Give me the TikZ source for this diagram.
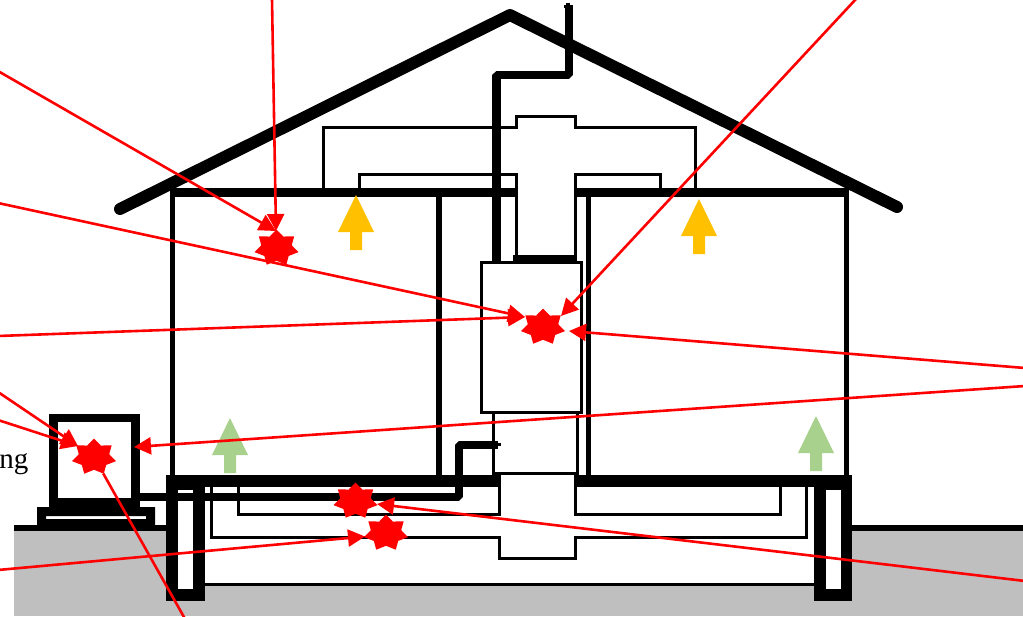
\documentclass[tikz,border=0pt]{standalone}
\usepackage{fontspec}
\setmainfont{Liberation Serif}
\usetikzlibrary{arrows.meta, shapes.geometric}
\definecolor{LEAKred}{HTML}{FF0000}
\definecolor{SOILgray}{HTML}{BFBFBF}
\definecolor{AIRyellow}{HTML}{FFC000}
\definecolor{AIRgreen}{HTML}{A9D18E}
\tikzset{
   leak/.style={star, star points=7, star point ratio=1.45, minimum size=37pt, inner sep=0pt, outer sep=0pt, fill=LEAKred, xscale=1.22, transform shape},
   leakline/.style={LEAKred, line width=2.6pt, -{Triangle[length=17pt, width=17pt]}},
   duct/.style={line width=3pt, miter limit=10},
   wall/.style={line width=5.5pt},
   pipe/.style={line width=8pt}
}

\begin{document}
\begin{tikzpicture}[x=1pt, y=-1pt]
   \useasboundingbox (0,0) rectangle (1023,616);
   % Ground
   \fill[SOILgray] (14,530) rectangle (166,616);
   \fill[SOILgray] (851,530) rectangle (1023,616);
   \fill[SOILgray] (166,585) rectangle (851,616);
   \draw[line width=5.5pt] (14,528) -- (166,528);
   \draw[line width=5.5pt] (851,528) -- (1023,528);
   \draw[line width=3pt] (205,584.5) -- (814,584.5);
   % Roof and flue
   \draw[line width=12pt, line join=round, line cap=round] (120,209) -- (510,15) -- (897,207);
   \draw[pipe, line width=8.5pt, line join=bevel] (496.5,262) -- (496.5,75) -- (569,75) -- (569,8);
   \fill (564,8) rectangle (573,5);
   \fill (566,3) rectangle (570,8);
   % Ceiling and floor
   \fill (170,188) rectangle (517,197);
   \fill (575,188) rectangle (849,197);
   \fill (166,475) rectangle (500,487);
   \fill (574,475) rectangle (851.5,487);
   % Walls
   \draw[wall] (172.5,190) -- (172.5,475);
   \draw[wall] (846.5,190) -- (846.5,475);
   \draw[wall] (439,197) -- (439,475);
   \draw[wall] (588.5,197) -- (588.5,475);
   % Attic ducts
   \draw[duct] (323.5,188) -- (323.5,127.5) -- (516.5,127.5) -- (516.5,116.5) -- (575.5,116.5) -- (575.5,127.5) -- (695,127.5) -- (695,188);
   \draw[duct] (359,188) -- (359,174) -- (516.5,174) -- (516.5,256);
   \draw[duct] (660,188) -- (660,174) -- (575.5,174) -- (575.5,256);
   % Furnace
   \draw[duct] (481.5,262.5) rectangle (581.5,412.5);
   \fill (513,255) rectangle (577,262);
   \draw[duct] (493.5,412.5) -- (493.5,473) -- (577.5,473) -- (577.5,412.5);
   % Crawlspace ducts
   \draw[duct] (238.5,487) -- (238.5,514) -- (499,514) -- (499,475);
   \draw[duct] (575.5,475) -- (575.5,514) -- (780,514) -- (780,487);
   \draw[duct] (211.5,487) -- (211.5,537.5) -- (499,537.5) -- (499,558) -- (575.5,558) -- (575.5,537.5) -- (806,537.5) -- (806,487);
   % Foundation
   \fill (166,475) rectangle (205,601);
   \fill[white] (178,490) rectangle (193,589);
   \fill (814,475) rectangle (851.5,601);
   \fill[white] (826,490) rectangle (841,589);
   % Outdoor unit
   \draw[line width=8.5pt] (53.5,418) rectangle (135.5,502.5);
   \fill[even odd rule] (37,507) rectangle (155,525) (46,516) rectangle (146,519);
   % Refrigerant line
   \draw[pipe, line join=bevel] (140,496.5) -- (458.5,496.5) -- (458.5,444.5) -- (498,444.5);
   \fill (498,443) rectangle (501,446);
   % Warm and cool air
   \foreach \px/\py/\colr in {356/195/AIRyellow, 699/199/AIRyellow, 230/418/AIRgreen, 816/416/AIRgreen}
      \fill[\colr] (\px,\py) -- ++(18,37) -- ++(-12,0) -- ++(0,18) -- ++(-12,0) -- ++(0,-18) -- ++(-12,0) -- cycle;
   % Leak points
   \node[leak] (leakattic) at (276.5,248) {};
   \node[leak] (leakfurnace) at (543,327) {};
   \node[leak] (leakunit) at (94,457) {};
   \node[leak] (leakline) at (355.5,501) {};
   \node[leak] (leakduct) at (386,533) {};
   % Free ends
   \coordinate (inA) at (272,-1);
   \coordinate (inB) at (-2,71);
   \coordinate (inC) at (-2,203);
   \coordinate (inD) at (-2,336);
   \coordinate (inE) at (856,-1);
   \coordinate (inF) at (1025,368);
   \coordinate (inG) at (1025,386);
   \coordinate (inH) at (-2,392);
   \coordinate (inI) at (-2,420);
   \coordinate (inJ) at (184.5,618);
   \coordinate (inK) at (1025,581);
   \coordinate (inL) at (-2,570);
   \coordinate (tipA) at (276,231);
   \coordinate (tipC) at (525,317);
   \coordinate (tipE) at (561,316);
   \coordinate (tipF) at (569,331);
   \coordinate (tipG) at (134,447);
   \coordinate (tipH) at (78,446);
   \coordinate (tipK) at (377,504);
   \coordinate (tipL) at (365,536.5);
   % Leak paths
   \draw[leakline] (inA) -- (tipA);
   \draw[leakline] (inB) -- (tipA);
   \draw[leakline] (inC) -- (tipC);
   \draw[leakline] (inD) -- (tipC);
   \draw[leakline] (inE) -- (tipE);
   \draw[leakline] (inF) -- (tipF);
   \draw[leakline] (inG) -- (tipG);
   \draw[leakline] (inH) -- (tipH);
   \draw[leakline] (inI) -- (tipH);
   \draw[leakline, -] (inJ) -- (leakunit);
   \draw[leakline] (inK) -- (tipK);
   \draw[leakline] (inL) -- (tipL);
   % Cut-off label
   \node[anchor=base east, font=\fontsize{29}{29}\selectfont, inner sep=0pt] (cutlabel) at (28.5,468) {ng};
\end{tikzpicture}
\end{document}
